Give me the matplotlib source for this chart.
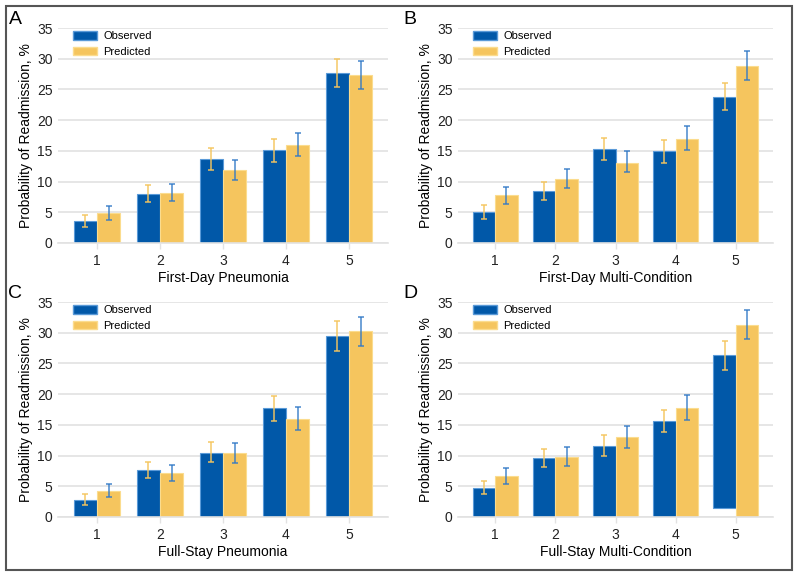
import matplotlib
matplotlib.use("Agg")
import matplotlib.pyplot as plt
from matplotlib.patches import Rectangle, Patch
import numpy as np

plt.rcParams['font.family'] = ['Liberation Sans', 'DejaVu Sans']

quintiles = ["1", "2", "3", "4", "5"]
series_names = ["Observed", "Predicted"]

panel_letters = ["A", "B", "C", "D"]
panel_titles = ["First-Day Pneumonia", "First-Day Multi-Condition",
                "Full-Stay Pneumonia", "Full-Stay Multi-Condition"]

# A - first-day pneumonia
obs_a = [3.6, 8.05, 13.7, 15.1, 27.65]
obs_a_lo = [2.6, 6.6, 11.9, 13.2, 25.4]
obs_a_hi = [4.5, 9.5, 15.5, 17.0, 30.0]
pred_a = [4.95, 8.2, 11.9, 15.9, 27.3]
pred_a_lo = [3.8, 6.8, 10.2, 14.1, 25.0]
pred_a_hi = [6.0, 9.6, 13.55, 17.9, 29.7]

# B - first-day multi-condition
obs_b = [5.0, 8.4, 15.3, 15.0, 23.8]
obs_b_lo = [3.9, 7.0, 13.45, 13.1, 21.7]
obs_b_hi = [6.15, 9.9, 17.1, 16.7, 26.0]
pred_b = [7.8, 10.5, 13.1, 17.0, 28.8]
pred_b_lo = [6.3, 8.9, 11.5, 15.1, 26.6]
pred_b_hi = [9.15, 12.1, 14.9, 19.0, 31.2]

# C - full-stay pneumonia
obs_c = [2.8, 7.6, 10.5, 17.75, 29.5]
obs_c_lo = [2.0, 6.35, 8.9, 15.7, 27.1]
obs_c_hi = [3.75, 8.95, 12.15, 19.7, 31.9]
pred_c = [4.3, 7.1, 10.4, 16.0, 30.2]
pred_c_lo = [3.3, 5.8, 8.85, 14.2, 27.8]
pred_c_hi = [5.4, 8.4, 12.1, 17.9, 32.55]

# D - full-stay multi-condition (last observed bar does not start at 0 in the source)
obs_d = [4.8, 9.55, 11.55, 15.7, 26.3]
obs_d_bottom = [0, 0, 0, 0, 1.45]
obs_d_lo = [3.7, 8.1, 9.9, 13.9, 24.0]
obs_d_hi = [5.9, 11.1, 13.3, 17.5, 28.65]
pred_d = [6.7, 9.8, 13.1, 17.8, 31.3]
pred_d_lo = [5.4, 8.3, 11.3, 15.85, 29.0]
pred_d_hi = [8.0, 11.35, 14.8, 19.85, 33.75]

panels = [
    (obs_a, [0] * 5, obs_a_lo, obs_a_hi, pred_a, pred_a_lo, pred_a_hi),
    (obs_b, [0] * 5, obs_b_lo, obs_b_hi, pred_b, pred_b_lo, pred_b_hi),
    (obs_c, [0] * 5, obs_c_lo, obs_c_hi, pred_c, pred_c_lo, pred_c_hi),
    (obs_d, obs_d_bottom, obs_d_lo, obs_d_hi, pred_d, pred_d_lo, pred_d_hi),
]

blue = "#0158A8"
yellow = "#F5C55E"
blue_edge = "#5A9AD8"
yellow_edge = "#FBDC8E"
grid_col = "#E2E2E2"

W, H = 800, 577
fig = plt.figure(figsize=(W / 100, H / 100), dpi=100)

# axes boxes in pixels: left, top, right, bottom
boxes = [(58, 28, 388, 243), (458, 28, 773, 243),
         (58, 302, 388, 517), (458, 302, 773, 517)]
letter_pos = [(15, 20), (410, 20), (15, 294), (410, 294)]

for i, (obs, obs_bot, olo, ohi, pred, plo, phi) in enumerate(panels):
    l, t, r, b = boxes[i]
    ax = fig.add_axes([l / W, 1 - b / H, (r - l) / W, (b - t) / H])
    x = np.arange(1, 6)
    w = 0.37
    obs = np.array(obs)
    obs_bot = np.array(obs_bot)
    ax.bar(x - w / 2, obs - obs_bot, w, bottom=obs_bot, color=blue,
           edgecolor=blue_edge, linewidth=0.8, zorder=2)
    ax.bar(x + w / 2, pred, w, color=yellow, edgecolor=yellow_edge,
           linewidth=0.8, zorder=2)
    ax.errorbar(x - w / 2, obs, yerr=[obs - np.array(olo), np.array(ohi) - obs],
                fmt="none", ecolor=yellow, elinewidth=1.3, capsize=2.5,
                capthick=1.3, alpha=0.8, zorder=3, clip_on=False)
    pred = np.array(pred)
    ax.errorbar(x + w / 2, pred, yerr=[pred - np.array(plo), np.array(phi) - pred],
                fmt="none", ecolor="#2F78C6", elinewidth=1.3, capsize=2.5,
                capthick=1.3, alpha=0.75, zorder=3, clip_on=False)

    ax.set_xlim(0.38, 5.62)
    ax.set_ylim(0, 35)
    ax.set_yticks(range(0, 36, 5))
    ax.set_xticks(x)
    ax.set_xticklabels(quintiles)
    ax.grid(axis="y", color=grid_col, linewidth=1.2, zorder=0)
    ax.set_axisbelow(True)
    for s in ["top", "right", "left"]:
        ax.spines[s].set_visible(False)
    ax.spines["bottom"].set_color(grid_col)
    ax.spines["bottom"].set_linewidth(1.2)
    ax.tick_params(axis="y", length=0, pad=4, labelsize=10, labelcolor="#222222")
    ax.tick_params(axis="x", length=4, color=grid_col, width=1, pad=4,
                   labelsize=10, labelcolor="#222222")
    ax.set_ylabel("Probability of Readmission, %", fontsize=10, labelpad=3)
    ax.set_xlabel(panel_titles[i], fontsize=10, labelpad=2)

    handles = [Patch(facecolor=blue, edgecolor=blue_edge),
               Patch(facecolor=yellow, edgecolor=yellow_edge)]
    ax.legend(handles, series_names, loc="upper left", frameon=False,
              fontsize=8, handlelength=2.2, handleheight=0.8,
              bbox_to_anchor=(15 / (r - l), 0.985), borderaxespad=0,
              borderpad=0, labelspacing=0.5, handletextpad=0.5)

    lx, ly = letter_pos[i]
    fig.text(lx / W, 1 - ly / H, panel_letters[i], fontsize=14,
             ha="center", va="center")

fig.patches.append(Rectangle((6 / W, 1 - 570 / H), 786 / W, 564 / H,
                             transform=fig.transFigure, fill=False,
                             edgecolor="#555555", linewidth=1.5))

fig.savefig("out.png", dpi=100)
